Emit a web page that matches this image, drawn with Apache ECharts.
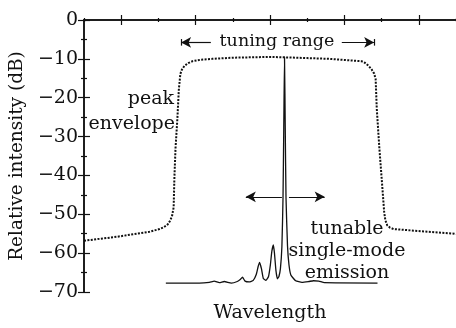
<!DOCTYPE html>
<html>
<head>
<meta charset="utf-8">
<script src="https://cdn.jsdelivr.net/npm/echarts@6/dist/echarts.min.js"></script>
<style>
  html, body { margin: 0; padding: 0; background: #fff; }
  #chartDIV { width: 456px; height: 328px; }
</style>
</head>
<body>
<div id="chartDIV"></div>
<script>
// wavelength axis has no labels: x is in tick units (0 = left frame)
var yTicks = [0, -10, -20, -30, -40, -50, -60, -70];

// peak envelope (dotted), [x, dB]
var envelope = [
    [0.0, -56.8], [0.88, -55.8], [1.76, -54.5], [2.03, -53.8], [2.15, -53.3],
    [2.25, -52.6], [2.32, -51.6], [2.37, -50.3], [2.41, -48.2], [2.43, -40.6],
    [2.46, -33.0], [2.51, -25.4], [2.55, -17.8], [2.59, -13.9], [2.63, -12.8],
    [2.70, -11.8], [2.80, -11.1], [2.92, -10.6], [3.15, -10.2], [3.45, -10.0],
    [4.00, -9.7], [5.03, -9.5], [6.00, -9.8], [6.58, -10.0], [7.46, -10.6],
    [7.55, -11.0], [7.65, -11.8], [7.73, -12.7], [7.80, -13.8], [7.84, -15.2],
    [7.87, -22.8], [7.94, -33.0], [8.02, -43.1], [8.07, -49.5], [8.10, -51.5],
    [8.15, -52.8], [8.22, -53.4], [8.32, -53.8], [8.72, -54.1], [9.95, -55.0],
    [10.0, -55.1]
];

// single-mode emission spectrum (solid)
var spectrum = [
    [2.20, -67.7], [3.10, -67.7], [3.37, -67.5], [3.50, -67.2], [3.64, -67.6],
    [3.77, -67.3], [3.96, -67.7], [4.12, -67.3], [4.20, -66.8], [4.26, -66.2],
    [4.33, -67.2], [4.44, -67.4], [4.55, -67.0], [4.63, -65.5], [4.68, -63.5],
    [4.72, -62.4], [4.77, -64.0], [4.82, -66.5], [4.89, -67.0], [4.96, -66.0],
    [5.01, -63.0], [5.05, -59.5], [5.09, -57.9], [5.12, -60.0], [5.16, -64.5],
    [5.20, -66.6], [5.24, -66.0], [5.28, -64.0], [5.32, -58.3], [5.35, -45.6],
    [5.37, -27.9], [5.39, -9.5], [5.41, -27.9], [5.43, -45.6], [5.47, -58.0],
    [5.51, -63.0], [5.56, -65.6], [5.69, -67.1], [5.86, -67.5], [6.04, -67.3],
    [6.17, -67.1], [6.31, -67.2], [6.46, -67.6], [7.89, -67.7]
];

var FONT = 'DejaVu Serif';
var INK = '#111';
var TXT = '19px "' + FONT + '"';

function frameX(pos) {
    return {
        type: 'value', position: pos, min: 0, max: 10, interval: 2,
        axisLine: { show: true, lineStyle: { color: INK, width: 1.5 } },
        axisTick: { show: true, inside: true, length: 2, lineStyle: { color: INK, width: 1.2 } },
        minorTick: { show: true, splitNumber: 2, length: 5, lineStyle: { color: INK, width: 1.2 } },
        axisLabel: { show: false },
        splitLine: { show: false }
    };
}
function frameY(pos, labels) {
    return {
        type: 'value', position: pos, min: yTicks[yTicks.length - 1], max: yTicks[0], interval: 10,
        axisLine: { show: true, lineStyle: { color: INK, width: 1.5 } },
        axisTick: { show: true, inside: true, length: 6, lineStyle: { color: INK, width: 1.2 } },
        minorTick: { show: true, splitNumber: 2, length: 3, lineStyle: { color: INK, width: 1.2 } },
        axisLabel: {
            show: labels, margin: 6, color: INK, fontFamily: FONT, fontSize: 19,
            formatter: function (v) { return String(v).replace('-', '\u2212'); }
        },
        splitLine: { show: false }
    };
}

var xA = frameX('bottom');
xA.name = 'Wavelength';
xA.nameLocation = 'middle';
xA.nameGap = 12;
xA.nameTextStyle = { color: INK, fontFamily: FONT, fontSize: 19 };
var yA = frameY('left', true);
yA.name = 'Relative intensity (dB)';
yA.nameLocation = 'middle';
yA.nameGap = 52;
yA.nameTextStyle = { color: INK, fontFamily: FONT, fontSize: 18.5 };

var myChart = echarts.init(document.getElementById('chartDIV'));
var option = {
    animation: false,
    grid: { left: 84, right: -2, top: 20, bottom: 32, containLabel: false },
    xAxis: [xA, frameX('top')],
    yAxis: [yA, frameY('right', false)],
    series: [
        {
            type: 'line', data: envelope, showSymbol: false, symbol: 'none',
            lineStyle: { color: INK, width: 2, type: [2, 1.4] }
        },
        {
            type: 'line', data: spectrum, showSymbol: false, symbol: 'none', smooth: 0.15,
            lineStyle: { color: INK, width: 1.3 }
        },
        {
            // annotation arrows
            type: 'line', data: [], silent: true,
            markLine: {
                silent: true, animation: false,
                symbol: ['none', 'arrow'], symbolSize: [8, 10],
                label: { show: false },
                lineStyle: { color: INK, width: 1.2, type: 'solid' },
                data: [
                    [{ coord: [3.41, -5.76] }, { coord: [2.61, -5.76] }],
                    [{ coord: [6.93, -5.76] }, { coord: [7.80, -5.76] }],
                    [{ coord: [2.62, -4.9], symbol: 'none' }, { coord: [2.62, -6.6], symbol: 'none' }],
                    [{ coord: [7.81, -4.9], symbol: 'none' }, { coord: [7.81, -6.6], symbol: 'none' }],
                    [{ coord: [5.32, -45.5] }, { coord: [4.35, -45.5] }],
                    [{ coord: [5.51, -45.5] }, { coord: [6.47, -45.5] }]
                ]
            }
        }
    ],
    graphic: [
        { type: 'text', x: 277, y: 41, style: { text: 'tuning range', fill: INK, font: '17.5px "' + FONT + '"', align: 'center', verticalAlign: 'middle' } },
        { type: 'text', x: 174, y: 99, style: { text: 'peak', fill: INK, font: TXT, align: 'right', verticalAlign: 'middle' } },
        { type: 'text', x: 175, y: 124, style: { text: 'envelope', fill: INK, font: TXT, align: 'right', verticalAlign: 'middle' } },
        { type: 'text', x: 347, y: 229, style: { text: 'tunable', fill: INK, font: TXT, align: 'center', verticalAlign: 'middle' } },
        { type: 'text', x: 347, y: 251, style: { text: 'single-mode', fill: INK, font: TXT, align: 'center', verticalAlign: 'middle' } },
        { type: 'text', x: 347, y: 273, style: { text: 'emission', fill: INK, font: TXT, align: 'center', verticalAlign: 'middle' } }
    ]
};
myChart.setOption(option);
</script>
</body>
</html>
